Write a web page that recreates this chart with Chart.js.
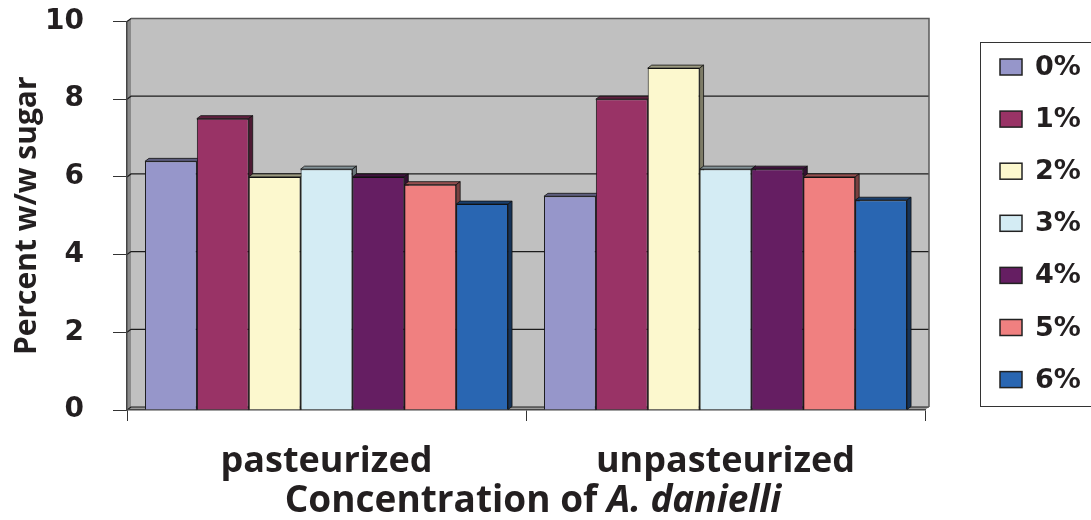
<!DOCTYPE html>
<html>
<head>
<meta charset="utf-8">
<script src="https://cdn.jsdelivr.net/npm/chart.js@4/dist/chart.umd.min.js"></script>
<style>
  html, body { margin: 0; padding: 0; background: #ffffff; }
  #wrap { width: 1091px; height: 520px; }
</style>
</head>
<body>
<div id="wrap"><canvas id="c" width="1091" height="520"></canvas></div>
<script>
// Sugar content (% w/w) by A. danielli concentration
const categories = ['pasteurized', 'unpasteurized'];
const seriesLabels = ['0%', '1%', '2%', '3%', '4%', '5%', '6%'];
const conc0 = [6.4, 5.5];
const conc1 = [7.5, 8.0];
const conc2 = [6.0, 8.8];
const conc3 = [6.2, 6.2];
const conc4 = [6.0, 6.2];
const conc5 = [5.8, 6.0];
const conc6 = [5.3, 5.4];
const yTicks = [0, 2, 4, 6, 8, 10];
const yAxisTitle = 'Percent w/w sugar';
const xAxisTitle = ['Concentration of ', 'A. danielli'];

const seriesValues = [conc0, conc1, conc2, conc3, conc4, conc5, conc6];
const seriesColors = ['#9696ca', '#993366', '#fcf8ce', '#d4ecf4', '#651e62', '#f08080', '#2966b2'];

const TEXT = '#231f20';
const DX = 4, DY = -3;   // depth offset of the pseudo-3D extrusion

function shade(hex, f) {
  const n = parseInt(hex.slice(1), 16);
  const r = Math.round(((n >> 16) & 255) * f);
  const g = Math.round(((n >> 8) & 255) * f);
  const b = Math.round((n & 255) * f);
  return `rgb(${r},${g},${b})`;
}

const depthPlugin = {
  id: 'depth',
  beforeDraw(chart) {
    const { ctx, chartArea: a } = chart;
    const ys = chart.scales.y;
    ctx.save();
    // side wall
    ctx.fillStyle = '#8a8a8a';
    ctx.beginPath();
    ctx.moveTo(a.left, a.top); ctx.lineTo(a.left + DX, a.top + DY);
    ctx.lineTo(a.left + DX, a.bottom + DY); ctx.lineTo(a.left, a.bottom);
    ctx.closePath(); ctx.fill();
    // floor
    ctx.fillStyle = '#9a9a9a';
    ctx.beginPath();
    ctx.moveTo(a.left, a.bottom); ctx.lineTo(a.left + DX, a.bottom + DY);
    ctx.lineTo(a.right + DX, a.bottom + DY); ctx.lineTo(a.right, a.bottom);
    ctx.closePath(); ctx.fill();
    // back wall
    ctx.fillStyle = '#c0c0c0';
    ctx.fillRect(a.left + DX, a.top + DY, a.right - a.left, a.bottom - a.top);
    // gridlines on the back wall
    ctx.strokeStyle = '#1c1c1c';
    ctx.lineWidth = 1.2;
    yTicks.forEach(v => {
      const py = ys.getPixelForValue(v);
      ctx.beginPath();
      ctx.moveTo(a.left, py);
      ctx.lineTo(a.left + DX, py + DY);
      ctx.lineTo(a.right + DX, py + DY);
      ctx.stroke();
    });
    // wall edges
    ctx.strokeStyle = '#5a5a5a';
    ctx.lineWidth = 1.5;
    ctx.beginPath();
    ctx.moveTo(a.left + DX, a.top + DY); ctx.lineTo(a.right + DX, a.top + DY);
    ctx.lineTo(a.right + DX, a.bottom + DY);
    ctx.stroke();
    ctx.restore();
  },
  beforeDatasetsDraw(chart) {
    const { ctx } = chart;
    ctx.save();
    ctx.lineWidth = 0.8;
    ctx.strokeStyle = '#111';
    chart.data.datasets.forEach((ds, i) => {
      const meta = chart.getDatasetMeta(i);
      meta.data.forEach(el => {
        const { x, y, base, width } = el.getProps(['x', 'y', 'base', 'width'], true);
        const l = x - width / 2, r = x + width / 2;
        // top face
        ctx.fillStyle = shade(ds.backgroundColor, 0.62);
        ctx.beginPath();
        ctx.moveTo(l, y); ctx.lineTo(l + DX, y + DY); ctx.lineTo(r + DX, y + DY); ctx.lineTo(r, y);
        ctx.closePath(); ctx.fill(); ctx.stroke();
        // side face
        ctx.fillStyle = shade(ds.backgroundColor, 0.5);
        ctx.beginPath();
        ctx.moveTo(r, y); ctx.lineTo(r + DX, y + DY); ctx.lineTo(r + DX, base + DY); ctx.lineTo(r, base);
        ctx.closePath(); ctx.fill(); ctx.stroke();
      });
    });
    ctx.restore();
  },
  afterDraw(chart) {
    const { ctx, chartArea: a } = chart;
    ctx.save();
    // legend
    const lx = 980.5, ly = 42.5, lh = 364;
    ctx.strokeStyle = '#333';
    ctx.lineWidth = 1;
    ctx.strokeRect(lx, ly, 130, lh);
    ctx.font = 'bold 27px "DejaVu Sans"';
    ctx.textBaseline = 'middle';
    ctx.textAlign = 'left';
    chart.data.datasets.forEach((ds, i) => {
      const cy = 67 + i * 52.1;
      ctx.fillStyle = ds.backgroundColor;
      ctx.fillRect(1000, cy - 8, 22, 16);
      ctx.strokeStyle = '#222';
      ctx.lineWidth = 1.5;
      ctx.strokeRect(1000, cy - 8, 22, 16);
      ctx.fillStyle = TEXT;
      ctx.fillText(ds.label, 1035, cy + 1);
    });
    // x axis title, species name in italics
    const f1 = 'bold 37px "Open Sans"';
    const f2 = 'italic bold 37px "Open Sans"';
    ctx.font = f1; const w1 = ctx.measureText(xAxisTitle[0]).width;
    ctx.font = f2; const w2 = ctx.measureText(xAxisTitle[1]).width;
    const cx = (a.left + a.right) / 2 + 7;
    const x0 = cx - (w1 + w2) / 2;
    ctx.textBaseline = 'alphabetic';
    ctx.fillStyle = TEXT;
    ctx.font = f1; ctx.fillText(xAxisTitle[0], x0, 512);
    ctx.font = f2; ctx.fillText(xAxisTitle[1], x0 + w1, 512);
    ctx.restore();
  }
};

new Chart(document.getElementById('c'), {
  type: 'bar',
  data: {
    labels: categories,
    datasets: seriesLabels.map((lab, i) => ({
      label: lab,
      data: seriesValues[i],
      backgroundColor: seriesColors[i],
      borderColor: '#111',
      borderWidth: 1,
      barPercentage: 1.0,
      categoryPercentage: 0.91
    }))
  },
  options: {
    responsive: false,
    devicePixelRatio: 1,
    animation: false,
    layout: { padding: { top: 21.5, right: 166, bottom: 0, left: 0 } },
    plugins: { legend: { display: false }, tooltip: { enabled: false } },
    scales: {
      x: {
        afterFit(scale) { scale.height = 110; scale.paddingLeft = 0; scale.paddingRight = 0; },
        grid: { display: true, drawOnChartArea: false, drawTicks: true, tickLength: 11, color: '#333', lineWidth: 1 },
        border: { display: true, color: '#444', width: 1.5 },
        ticks: { color: TEXT, padding: 19, font: { family: 'Open Sans', weight: 'bold', size: 36 } }
      },
      y: {
        min: 0, max: 10,
        afterFit(scale) { scale.width = 127; scale.paddingTop = 0; scale.paddingBottom = 0; },
        afterBuildTicks(scale) { scale.ticks = yTicks.map(v => ({ value: v })); },
        grid: { display: true, drawOnChartArea: false, drawTicks: true, tickLength: 14, color: '#333', lineWidth: 1 },
        border: { display: true, color: '#444', width: 1.5 },
        ticks: { color: TEXT, padding: 29, font: { family: 'DejaVu Sans', weight: 'bold', size: 28 } },
        title: {
          display: true, text: yAxisTitle, color: TEXT,
          padding: { top: 9.5, bottom: 0 },
          font: { family: 'Open Sans', weight: 'bold', size: 30 }
        }
      }
    }
  },
  plugins: [depthPlugin]
});
</script>
</body>
</html>
